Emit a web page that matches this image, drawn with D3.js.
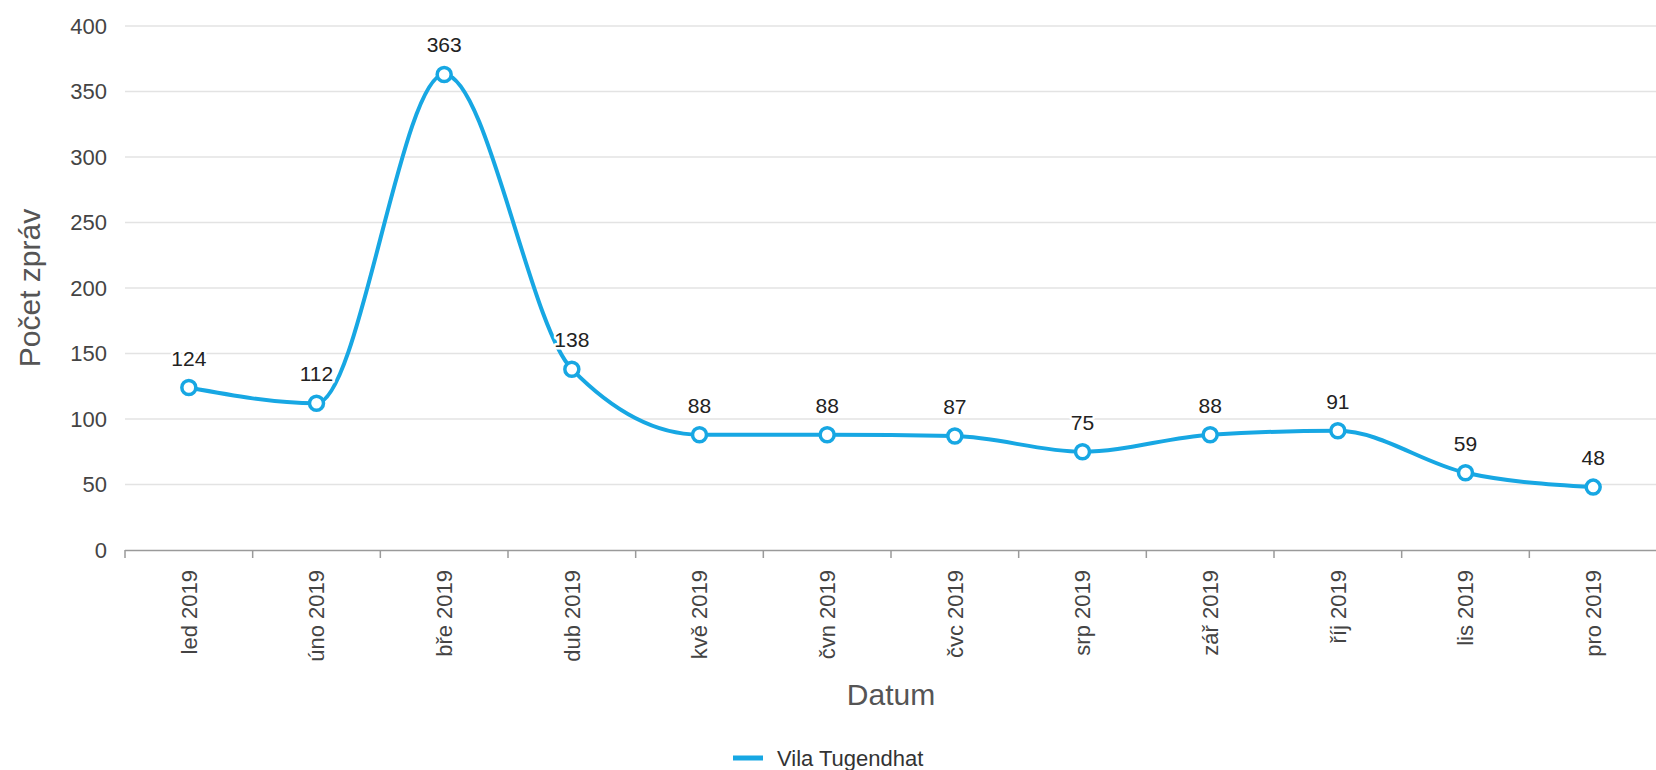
<!DOCTYPE html>
<html><head><meta charset="utf-8">
<script src="https://cdn.jsdelivr.net/npm/d3@7"></script>
<style>
html,body{margin:0;padding:0;background:#fff;}
svg{display:block;font-family:"Liberation Sans",Arial,sans-serif;}
</style></head>
<body><svg id="c" width="1656" height="770"></svg>
<script>
const categories = ["led 2019","úno 2019","bře 2019","dub 2019","kvě 2019","čvn 2019","čvc 2019","srp 2019","zář 2019","říj 2019","lis 2019","pro 2019"];
const values = [124,112,363,138,88,88,87,75,88,91,59,48];
const yTicks = [0,50,100,150,200,250,300,350,400];
const seriesName = "Vila Tugendhat";
const xTitle = "Datum";
const yTitle = "Počet zpráv";

(function(){
const color = "#17a7e3";
const svg = d3.select("#c");
const pL = 125, pR = 1657, pT = 26, pB = 550;

const x = d3.scaleBand().domain(categories).range([pL, pR]);
const y = d3.scaleLinear().domain([0, 400]).range([pB, pT]);

// gridlines
svg.append("g").selectAll("line").data(yTicks.filter(d => d > 0)).join("line")
  .attr("x1", pL).attr("x2", 1656)
  .attr("y1", d => y(d)).attr("y2", d => y(d))
  .attr("stroke", "#e3e3e3").attr("stroke-width", 1.5);

// y axis labels
const yAxis = d3.axisLeft(y).tickValues(yTicks).tickSize(0).tickPadding(18);
const gy = svg.append("g").attr("transform", `translate(${pL},0)`).call(yAxis);
gy.select(".domain").remove();
gy.selectAll("text").attr("font-size", 22).attr("fill", "#444").attr("font-family", "Liberation Sans, Arial, sans-serif");

// x axis
const gx = svg.append("g").attr("transform", `translate(0,${pB})`);
gx.append("line").attr("x1", pL).attr("x2", 1656).attr("y1", 0.5).attr("y2", 0.5)
  .attr("stroke", "#9a9a9a").attr("stroke-width", 1.5);
const bounds = categories.map(c => x(c)).concat([x(categories[categories.length-1]) + x.bandwidth()]);
gx.selectAll("line.tk").data(bounds.filter(b => b <= 1656)).join("line").attr("class","tk")
  .attr("x1", d => d).attr("x2", d => d).attr("y1", 0).attr("y2", 8)
  .attr("stroke", "#9a9a9a").attr("stroke-width", 1.5);
gx.selectAll("text").data(categories).join("text")
  .attr("transform", d => `translate(${x(d) + x.bandwidth()/2},20) rotate(-90)`)
  .attr("text-anchor", "end").attr("dy", "0.35em")
  .attr("font-size", 22).attr("fill", "#444").text(d => d);

// titles
svg.append("text").attr("x", (pL + pR)/2).attr("y", 705).attr("text-anchor", "middle")
  .attr("font-size", 30).attr("fill", "#555").text(xTitle);
svg.append("text").attr("transform", `translate(40,288) rotate(-90)`)
  .attr("text-anchor", "middle").attr("font-size", 30).attr("fill", "#555").text(yTitle);

// line
const pts = categories.map((c, i) => [x(c) + x.bandwidth()/2, y(values[i])]);
svg.append("path").attr("d", d3.line().curve(d3.curveMonotoneX)(pts))
  .attr("fill", "none").attr("stroke", color).attr("stroke-width", 4)
  .attr("stroke-linejoin", "round").attr("stroke-linecap", "round");

// markers
svg.append("g").selectAll("circle").data(pts).join("circle")
  .attr("cx", d => d[0]).attr("cy", d => d[1]).attr("r", 7)
  .attr("fill", "#fff").attr("stroke", color).attr("stroke-width", 3.5);

// data labels
svg.append("g").selectAll("text").data(values).join("text")
  .attr("x", (d, i) => pts[i][0]).attr("y", (d, i) => pts[i][1] - 22)
  .attr("text-anchor", "middle").attr("font-size", 21).attr("fill", "#222")
  .attr("stroke", "#fff").attr("stroke-width", 5).attr("stroke-linejoin", "round")
  .attr("paint-order", "stroke").text(d => d);

// legend
const lg = svg.append("g").attr("transform", "translate(733,758)");
lg.append("line").attr("x1", 0).attr("x2", 30).attr("y1", 0).attr("y2", 0)
  .attr("stroke", color).attr("stroke-width", 5);
lg.append("text").attr("x", 44).attr("y", 0).attr("dy", "0.35em")
  .attr("font-size", 22).attr("fill", "#333").text(seriesName);
})();
</script></body></html>
